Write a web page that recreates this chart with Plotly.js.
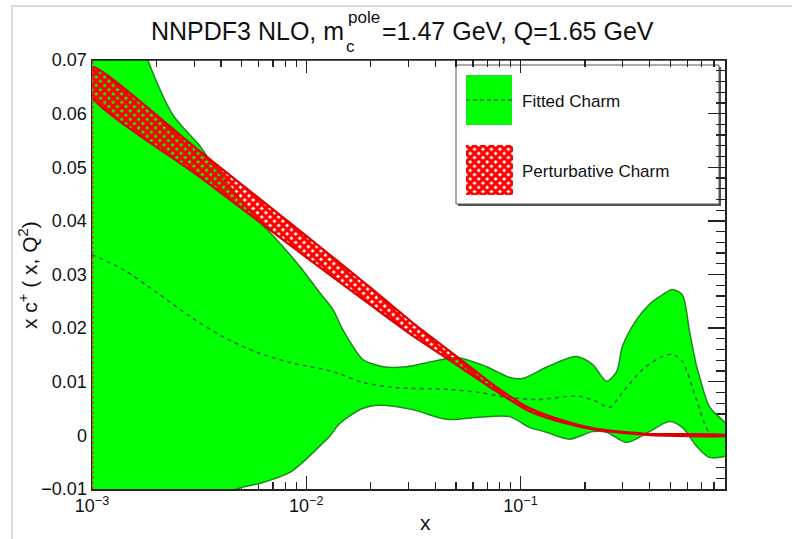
<!DOCTYPE html>
<html>
<head>
<meta charset="utf-8">
<script src="https://cdn.plot.ly/plotly-3.0.1.min.js"></script>
<style>html,body{margin:0;padding:0;background:#fff;}#chart{width:792px;height:539px;}</style>
</head>
<body>
<div id="chart"></div>
<script>
// ---- Fitted charm (NNPDF3 NLO) : upper / lower edges of the uncertainty band ----
const fitUpX = [0.001, 0.00126, 0.00158, 0.00182, 0.00239, 0.00318, 0.00366, 0.00454, 0.00587, 0.00728, 0.00933, 0.01156, 0.0133, 0.0148, 0.0165, 0.0183, 0.0228, 0.0294, 0.0389, 0.0504, 0.0693, 0.0889, 0.102, 0.132, 0.182, 0.217, 0.252, 0.281, 0.299, 0.348, 0.399, 0.459, 0.512, 0.569, 0.614, 0.662, 0.684, 0.760, 0.9];
const fitUp  = [0.095, 0.086, 0.0775, 0.0700, 0.0597, 0.0540, 0.0505, 0.0458, 0.0404, 0.0365, 0.0315, 0.0266, 0.0235, 0.0197, 0.0166, 0.0142, 0.0128, 0.0128, 0.0138, 0.0145, 0.0128, 0.0108, 0.0106, 0.0127, 0.0147, 0.0132, 0.0101, 0.0119, 0.0166, 0.0216, 0.0244, 0.0262, 0.0272, 0.0262, 0.0195, 0.0130, 0.0110, 0.0054, 0.0024];
const fitLoX = [0.001, 0.00158, 0.00251, 0.00355, 0.00474, 0.00627, 0.00838, 0.00964, 0.0119, 0.0129, 0.0143, 0.0183, 0.0220, 0.0314, 0.0452, 0.0644, 0.0889, 0.110, 0.132, 0.169, 0.217, 0.252, 0.312, 0.399, 0.495, 0.569, 0.662, 0.760, 0.9];
const fitLo  = [-0.040, -0.028, -0.018, -0.0125, -0.0100, -0.0088, -0.0069, -0.0050, -0.0015, -0.0001, 0.0022, 0.0050, 0.0056, 0.0048, 0.0030, 0.0034, 0.0035, 0.0015, 0.0006, -0.0007, 0.0007, 0.0006, -0.0013, 0.0007, 0.0026, 0.0015, -0.0020, -0.0041, -0.0039];
// central value (dashed)
const fitCenX = [0.001, 0.0014, 0.00201, 0.00286, 0.00408, 0.00587, 0.00838, 0.0133, 0.0183, 0.0264, 0.0452, 0.0644, 0.0861, 0.119, 0.188, 0.226, 0.260, 0.299, 0.371, 0.459, 0.512, 0.569, 0.662, 0.760, 0.9];
const fitCen  = [0.0337, 0.0309, 0.0266, 0.0222, 0.0184, 0.0155, 0.0136, 0.0119, 0.0099, 0.0089, 0.0086, 0.0080, 0.0071, 0.0067, 0.0073, 0.0063, 0.0052, 0.0080, 0.0123, 0.0147, 0.0151, 0.0138, 0.0067, 0.0006, -0.0002];
// ---- Perturbative charm band ----
const pertX  = [0.001, 0.00316, 0.01, 0.02, 0.0316, 0.0501, 0.0773, 0.110, 0.157, 0.226, 0.386, 0.9];
const pertUp = [0.0687, 0.0531, 0.0372, 0.0275, 0.0209, 0.0148, 0.0090, 0.0051, 0.0028, 0.0012, 0.0003, 0.0001];
const pertLo = [0.0631, 0.0483, 0.0332, 0.0243, 0.0185, 0.0132, 0.0082, 0.0045, 0.0024, 0.0010, 0.0001, -0.0001];
// ---- axis ticks / labels ----
const xTickVals = [0.001, 0.01, 0.1];
const xTickText = ['10<sup>\u22123</sup>', '10<sup>\u22122</sup>', '10<sup>\u22121</sup>'];
const xMinorVals = [0.002,0.003,0.004,0.005,0.006,0.007,0.008,0.009,0.02,0.03,0.04,0.05,0.06,0.07,0.08,0.09,0.2,0.3,0.4,0.5,0.6,0.7,0.8];
const legendLabels = ['Fitted Charm', 'Perturbative Charm'];
const titleParts = ['NNPDF3 NLO, m', 'pole', 'c', '=1.47 GeV, Q=1.65 GeV'];

const FONT = 'Liberation Sans, Arial, Helvetica, sans-serif';
const GREEN = '#00ff00', GREEN_LINE = '#1e8a1e', RED = '#ff0000';

const polyX = (ux, lx) => ux.concat(lx.slice().reverse(), [ux[0]]);
const polyY = (uy, ly) => uy.concat(ly.slice().reverse(), [uy[0]]);
const PATTERN = { shape: 'x', fgcolor: RED, bgcolor: 'rgba(0,0,0,0)', size: 6, solidity: 0.78 };

const traces = [
  { x: polyX(fitUpX, fitLoX), y: polyY(fitUp, fitLo), type: 'scatter', mode: 'lines',
    fill: 'toself', fillcolor: GREEN, line: { width: 0, shape: 'spline', smoothing: 0.8 }, hoverinfo: 'skip' },
  { x: fitUpX, y: fitUp, type: 'scatter', mode: 'lines', line: { color: GREEN_LINE, width: 1.5, shape: 'spline', smoothing: 0.8 } },
  { x: fitLoX, y: fitLo, type: 'scatter', mode: 'lines', line: { color: GREEN_LINE, width: 1.5, shape: 'spline', smoothing: 0.8 } },
  { x: fitCenX, y: fitCen, type: 'scatter', mode: 'lines', line: { color: '#2f6f2f', width: 1.6, dash: '4px,4px', shape: 'spline', smoothing: 0.8 } },
  { x: polyX(pertX, pertX), y: polyY(pertUp, pertLo), type: 'scatter', mode: 'lines',
    fill: 'toself', fillcolor: 'rgba(0,0,0,0)', fillpattern: PATTERN,
    line: { color: '#dd0000', width: 2.2, shape: 'spline', smoothing: 0.6 } },
  // legend swatches
  { x: [0, 1, 1, 0, 0], y: [0, 0, 1, 1, 0], xaxis: 'x2', yaxis: 'y2', type: 'scatter', mode: 'lines',
    fill: 'toself', fillcolor: GREEN, line: { color: '#33cc33', width: 1 } },
  { x: [0, 1], y: [0.5, 0.5], xaxis: 'x2', yaxis: 'y2', type: 'scatter', mode: 'lines',
    line: { color: '#2f6f2f', width: 1.3, dash: '4px,3px' } },
  { x: [0, 1, 1, 0, 0], y: [0, 0, 1, 1, 0], xaxis: 'x3', yaxis: 'y3', type: 'scatter', mode: 'lines',
    fill: 'toself', fillcolor: 'rgba(0,0,0,0)', fillpattern: PATTERN, line: { width: 0 } }
];

const L = 92, R = 725, T = 60, B = 489, W = 792, H = 539;
const px = v => (v - L) / (R - L);
const py = v => (B - v) / (B - T);

const hidden = { visible: false, fixedrange: true, range: [0, 1] };
const ann = (text, x, y, size, xanchor, extra) => Object.assign({ text, xref: 'paper', yref: 'paper', x: px(x), y: py(y), showarrow: false,
  font: { family: FONT, size, color: '#111' }, xanchor, yanchor: 'middle', borderpad: 0 }, extra || {});

const layout = {
  width: W, height: H,
  margin: { l: L, r: W - R, t: T, b: H - B },
  paper_bgcolor: '#fff', plot_bgcolor: '#fff',
  showlegend: false,
  font: { family: FONT, color: '#111', size: 18 },
  xaxis: {
    type: 'log', range: [-3, Math.log10(0.9)], tickmode: 'array', tickvals: xTickVals, ticktext: xTickText,
    ticks: 'inside', ticklen: 13, tickwidth: 1.3, tickcolor: '#222',
    minor: { tickmode: 'array', tickvals: xMinorVals, ticks: 'inside', ticklen: 7, tickwidth: 1.2, tickcolor: '#222', showgrid: false },
    showline: true, linecolor: '#222', linewidth: 1.5, mirror: 'allticks', showgrid: false, zeroline: false,
    layer: 'below traces', tickfont: { size: 18 }, fixedrange: true
  },
  yaxis: {
    range: [-0.01, 0.07], dtick: 0.01, tick0: 0,
    ticks: 'inside', ticklen: 17, tickwidth: 1.3, tickcolor: '#222',
    minor: { dtick: 0.002, ticks: 'inside', ticklen: 9, tickwidth: 1.2, tickcolor: '#222', showgrid: false },
    showline: true, linecolor: '#222', linewidth: 1.5, mirror: 'allticks', showgrid: false, zeroline: false,
    layer: 'below traces', tickfont: { size: 18 }, fixedrange: true
  },
  xaxis2: Object.assign({ domain: [px(466), px(512)], anchor: 'y2' }, hidden),
  yaxis2: Object.assign({ domain: [py(125), py(75)], anchor: 'x2' }, hidden),
  xaxis3: Object.assign({ domain: [px(466), px(513)], anchor: 'y3' }, hidden),
  yaxis3: Object.assign({ domain: [py(195), py(145)], anchor: 'x3' }, hidden),
  shapes: [
    // screenshot frame
    { type: 'path', xref: 'paper', yref: 'paper', path: `M ${px(12)} ${py(539)} L ${px(12)} ${py(6)} L ${px(792)} ${py(6)}`, line: { color: '#dcdcdc', width: 2 } },
    // top frame edge above fills
    { type: 'line', xref: 'paper', yref: 'paper', x0: 0, x1: 1, y0: 1, y1: 1, line: { color: '#222', width: 1.5 }, layer: 'above' },
    // left edge dashed red (band edge)
    { type: 'line', xref: 'paper', yref: 'paper', x0: 0.001, x1: 0.001, y0: 0, y1: 1, line: { color: '#e03020', width: 1.5, dash: '3px,2px' }, layer: 'above' },
    // legend shadow and box
    { type: 'rect', xref: 'paper', yref: 'paper', x0: px(458), x1: px(721), y0: py(206), y1: py(67), fillcolor: '#555', line: { width: 0 }, layer: 'below' },
    { type: 'rect', xref: 'paper', yref: 'paper', x0: px(456), x1: px(719), y0: py(204), y1: py(65), fillcolor: '#fff', line: { color: '#555', width: 1 }, layer: 'below' }
  ],
  annotations: [
    ann(titleParts[0], 345, 31, 25, 'right'),
    ann(titleParts[1], 347, 18, 17, 'left'),
    ann(titleParts[2], 350, 46, 17, 'center'),
    ann(titleParts[3], 381, 31, 25, 'left'),
    ann('x c<sup>+</sup> ( x, Q<sup>2</sup>)', 28, 275, 21, 'center', { textangle: -90 }),
    ann('x', 425, 522, 21, 'center'),
    ann(legendLabels[0], 521, 101, 17, 'left'),
    ann(legendLabels[1], 521, 171, 17, 'left')
  ]
};

Plotly.newPlot('chart', traces, layout, { staticPlot: true, displayModeBar: false });
</script>
</body>
</html>
